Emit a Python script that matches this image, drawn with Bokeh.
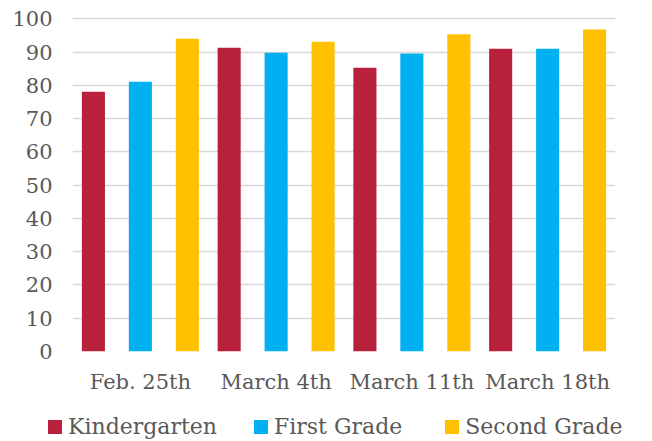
from bokeh.plotting import figure
from bokeh.layouts import column
from bokeh.models import ColumnDataSource, FixedTicker, Range1d, Div
from bokeh.transform import dodge
from bokeh.embed import file_html
from bokeh.resources import INLINE

dates = ["Feb. 25th", "March 4th", "March 11th", "March 18th"]
series_names = ["Kindergarten", "First Grade", "Second Grade"]
kindergarten = [78.1, 91.3, 85.3, 91.0]
first_grade = [81.1, 89.8, 89.6, 91.0]
second_grade = [94.0, 93.1, 95.4, 96.8]
y_ticks = [0, 10, 20, 30, 40, 50, 60, 70, 80, 90, 100]
colors = ["#B7213B", "#00B0F0", "#FFC000"]

FONT = "DejaVu Serif"
TXT = "#595959"

source = ColumnDataSource(dict(x=dates, k=kindergarten, f=first_grade, s=second_grade))

p = figure(x_range=dates, y_range=Range1d(0, 101), width=644, height=400,
           output_backend="svg", toolbar_location=None,
           min_border_left=72, min_border_right=29, min_border_top=15, min_border_bottom=49)

bw = 0.17
off = 0.346
for col, dx, c, name in zip(["k", "f", "s"], [-off, 0.0, off], colors, series_names):
    p.vbar(x=dodge("x", dx, range=p.x_range), top=col, width=bw, source=source,
           fill_color=c, line_color=None, name=name)

p.outline_line_color = None
p.xgrid.grid_line_color = None
p.ygrid.grid_line_color = "#D9D9D9"
p.ygrid.grid_line_width = 1.5
p.ygrid.level = "underlay"

p.yaxis.ticker = FixedTicker(ticks=y_ticks)
for ax in (p.xaxis[0], p.yaxis[0]):
    ax.axis_line_color = None
    ax.major_tick_line_color = None
    ax.minor_tick_line_color = None
    ax.major_tick_out = 0
    ax.major_tick_in = 0
    ax.major_label_text_font = FONT
    ax.major_label_text_font_size = "21px"
    ax.major_label_text_color = TXT

p.yaxis.major_label_standoff = 20
p.xaxis.major_label_standoff = 18

# legend row below the chart
gaps = [37, 43, 0]
item_html = []
for name, c, g in zip(series_names, colors, gaps):
    item_html.append(
        f'<span style="display:inline-flex;align-items:center;margin-right:{g}px;">'
        f'<span style="display:inline-block;width:14px;height:14px;background:{c};'
        f'margin-right:6px;"></span>{name}</span>')
legend_html = ('<div style="padding-left:48px;padding-top:14px;'
               f"font-family:'{FONT}';font-size:22px;line-height:26px;color:{TXT};"
               'white-space:nowrap;">' + "".join(item_html) + "</div>")
legend_div = Div(text=legend_html, width=644, height=41, margin=0)

layout = column(p, legend_div, spacing=0)

open("out.html", "w").write(file_html(layout, INLINE))
